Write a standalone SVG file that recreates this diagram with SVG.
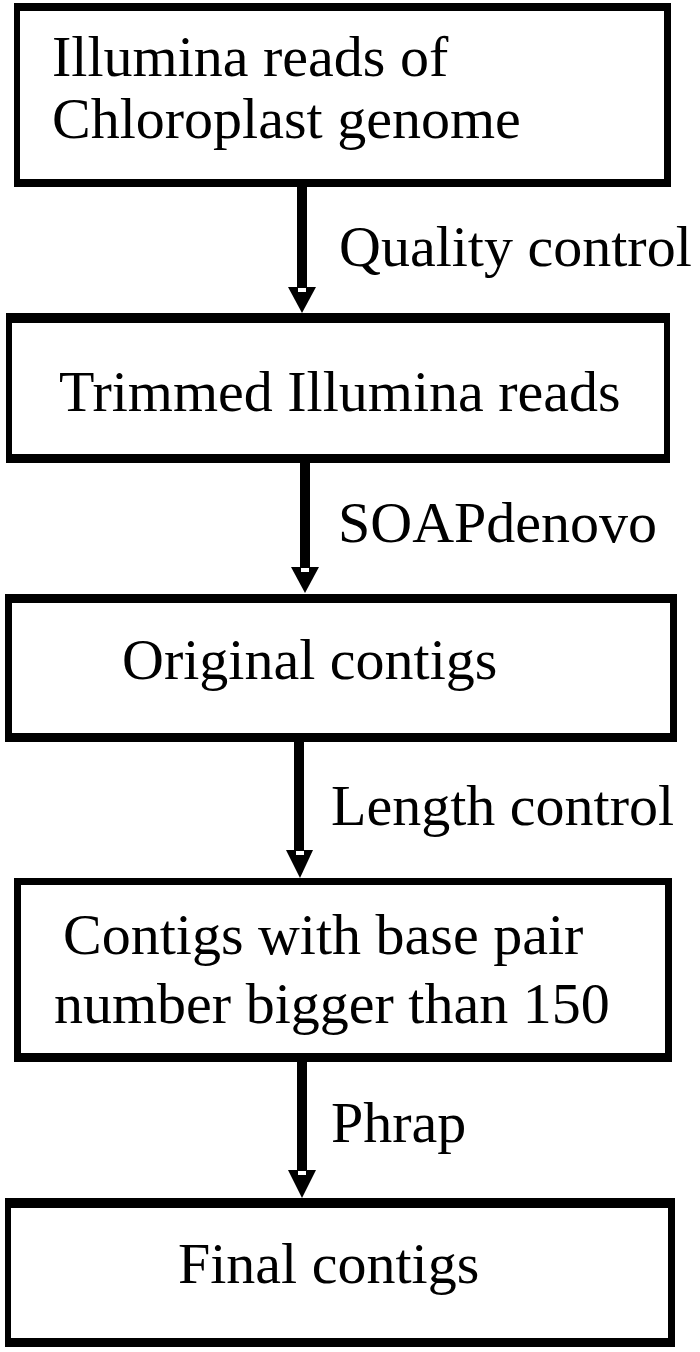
<svg xmlns="http://www.w3.org/2000/svg" width="700" height="1352" viewBox="0 0 700 1352">
<style>
.outer{fill:#000}
.inner{fill:#fff}
.t{font-family:"Liberation Serif","Times New Roman",serif;font-size:58px;fill:#000}
.shaft{stroke:#000;stroke-width:10;fill:none}
.head{fill:#000}
.notch{fill:#fff}
</style>
<rect x="0" y="0" width="700" height="1352" fill="#fff"/>
<g id="node1">
<rect class="outer" x="14" y="3" width="657" height="184"/>
<rect class="inner" x="20" y="11" width="644" height="168"/>
<text class="t" x="52" y="76">Illumina reads of</text>
<text class="t" x="52" y="138">Chloroplast genome</text>
</g>
<g id="node2">
<rect class="outer" x="6" y="313" width="664" height="150"/>
<rect class="inner" x="12" y="323" width="652" height="131"/>
<text class="t" x="59" y="411">Trimmed Illumina reads</text>
</g>
<g id="node3">
<rect class="outer" x="5" y="594" width="672" height="148"/>
<rect class="inner" x="12" y="603" width="658" height="130"/>
<text class="t" x="122" y="679">Original contigs</text>
</g>
<g id="node4">
<rect class="outer" x="14" y="878" width="658" height="184"/>
<rect class="inner" x="21" y="885" width="644" height="168"/>
<text class="t" x="63" y="954">Contigs with base pair</text>
<text class="t" x="54" y="1023">number bigger than 150</text>
</g>
<g id="node5">
<rect class="outer" x="5" y="1198" width="670" height="149"/>
<rect class="inner" x="11" y="1208" width="657" height="130"/>
<text class="t" x="178" y="1283">Final contigs</text>
</g>
<g id="connectors">
<line class="shaft" x1="302" y1="187" x2="302" y2="288"/>
<polygon class="head" points="288,287 316,287 302,313"/>
<rect class="notch" x="298" y="288" width="8" height="4"/>
<text class="t" x="339" y="266">Quality control</text>

<line class="shaft" x1="305" y1="463" x2="305" y2="568"/>
<polygon class="head" points="291,567 319,567 305,593"/>
<rect class="notch" x="301" y="568" width="8" height="4"/>
<text class="t" x="338" y="542">SOAPdenovo</text>

<line class="shaft" x1="299" y1="742" x2="299" y2="851"/>
<polygon class="head" points="286,850 313,850 300,878"/>
<rect class="notch" x="296" y="851" width="8" height="4"/>
<text class="t" x="331" y="825">Length control</text>

<line class="shaft" x1="302" y1="1062" x2="302" y2="1171"/>
<polygon class="head" points="288,1170 316,1170 302,1198"/>
<rect class="notch" x="298" y="1171" width="8" height="4"/>
<text class="t" x="331" y="1142">Phrap</text>
</g>
</svg>
